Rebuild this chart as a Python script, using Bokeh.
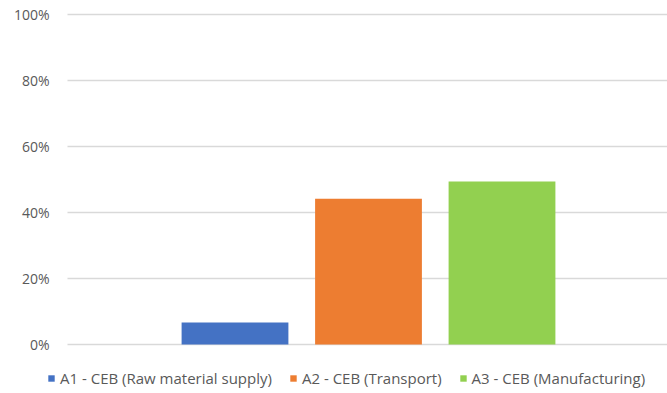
from bokeh.plotting import figure
from bokeh.models import Legend, LegendItem, Range1d, ColumnDataSource
from bokeh.core.properties import value
from bokeh.embed import file_html
from bokeh.resources import INLINE

# Share of CEB impact per life-cycle stage
labels = ["A1 - CEB (Raw material supply)", "A2 - CEB (Transport)", "A3 - CEB (Manufacturing)"]
shares = [0.067, 0.442, 0.494]
colors = ["#4472C4", "#ED7D31", "#92D050"]
y_ticks = [0, 0.2, 0.4, 0.6, 0.8, 1.0]
y_tick_labels = ["0%", "20%", "40%", "60%", "80%", "100%"]

FONT = "Open Sans"
TEXT_COLOR = "#595959"

# The frame fills the whole canvas; the value axis is drawn as text and
# grid segments so that the legend row underneath is not clipped.
W, H = 667, 393
LEFT, TOP, BOTTOM = 67, 14, 49          # plot area margins in px
PX_PER_SLOT = 133.5                     # px between bar centres
FIRST_CENTRE = 234.5                    # px of the first bar centre
PX_PER_UNIT = H - TOP - BOTTOM          # px for 100 %

x0 = -FIRST_CENTRE / PX_PER_SLOT
x1 = (W - FIRST_CENTRE) / PX_PER_SLOT
y0 = -BOTTOM / PX_PER_UNIT
y1 = 1 + TOP / PX_PER_UNIT
grid_left = x0 + LEFT / PX_PER_SLOT

p = figure(width=W, height=H, output_backend="svg", toolbar_location=None,
           x_range=Range1d(x0, x1), y_range=Range1d(y0, y1),
           min_border=0, x_axis_type=None, y_axis_type=None)
p.outline_line_color = None
p.grid.visible = False

# horizontal gridlines
grid = ColumnDataSource(dict(y=y_ticks, xs=[grid_left] * len(y_ticks), xe=[x1] * len(y_ticks)))
p.segment(x0="xs", x1="xe", y0="y", y1="y", source=grid, line_color="#D9D9D9", line_width=1.3)

# tick labels, right aligned left of the plot area
ticks = ColumnDataSource(dict(y=y_ticks, x=[x0] * len(y_ticks), t=y_tick_labels))
p.text(x="x", y="y", text="t", source=ticks, x_offset=49, text_align="right",
       text_baseline="middle", text_font=value(FONT), text_font_size="14px",
       text_color=TEXT_COLOR)

items = []
for i, (lab, v, c) in enumerate(zip(labels, shares, colors)):
    r = p.vbar(x=[i], top=[v], bottom=0, width=0.8, fill_color=c, line_color=None)
    items.append(LegendItem(label=lab, renderers=[r]))

legend = Legend(items=items, orientation="horizontal", location=(47, 5),
                glyph_width=8, glyph_height=8, label_standoff=5, spacing=17,
                padding=0, margin=0, border_line_color=None,
                background_fill_alpha=0,
                label_text_font=FONT, label_text_font_size="15px",
                label_text_color=TEXT_COLOR)
p.add_layout(legend, "center")

open("out.html", "w").write(file_html(p, INLINE))
